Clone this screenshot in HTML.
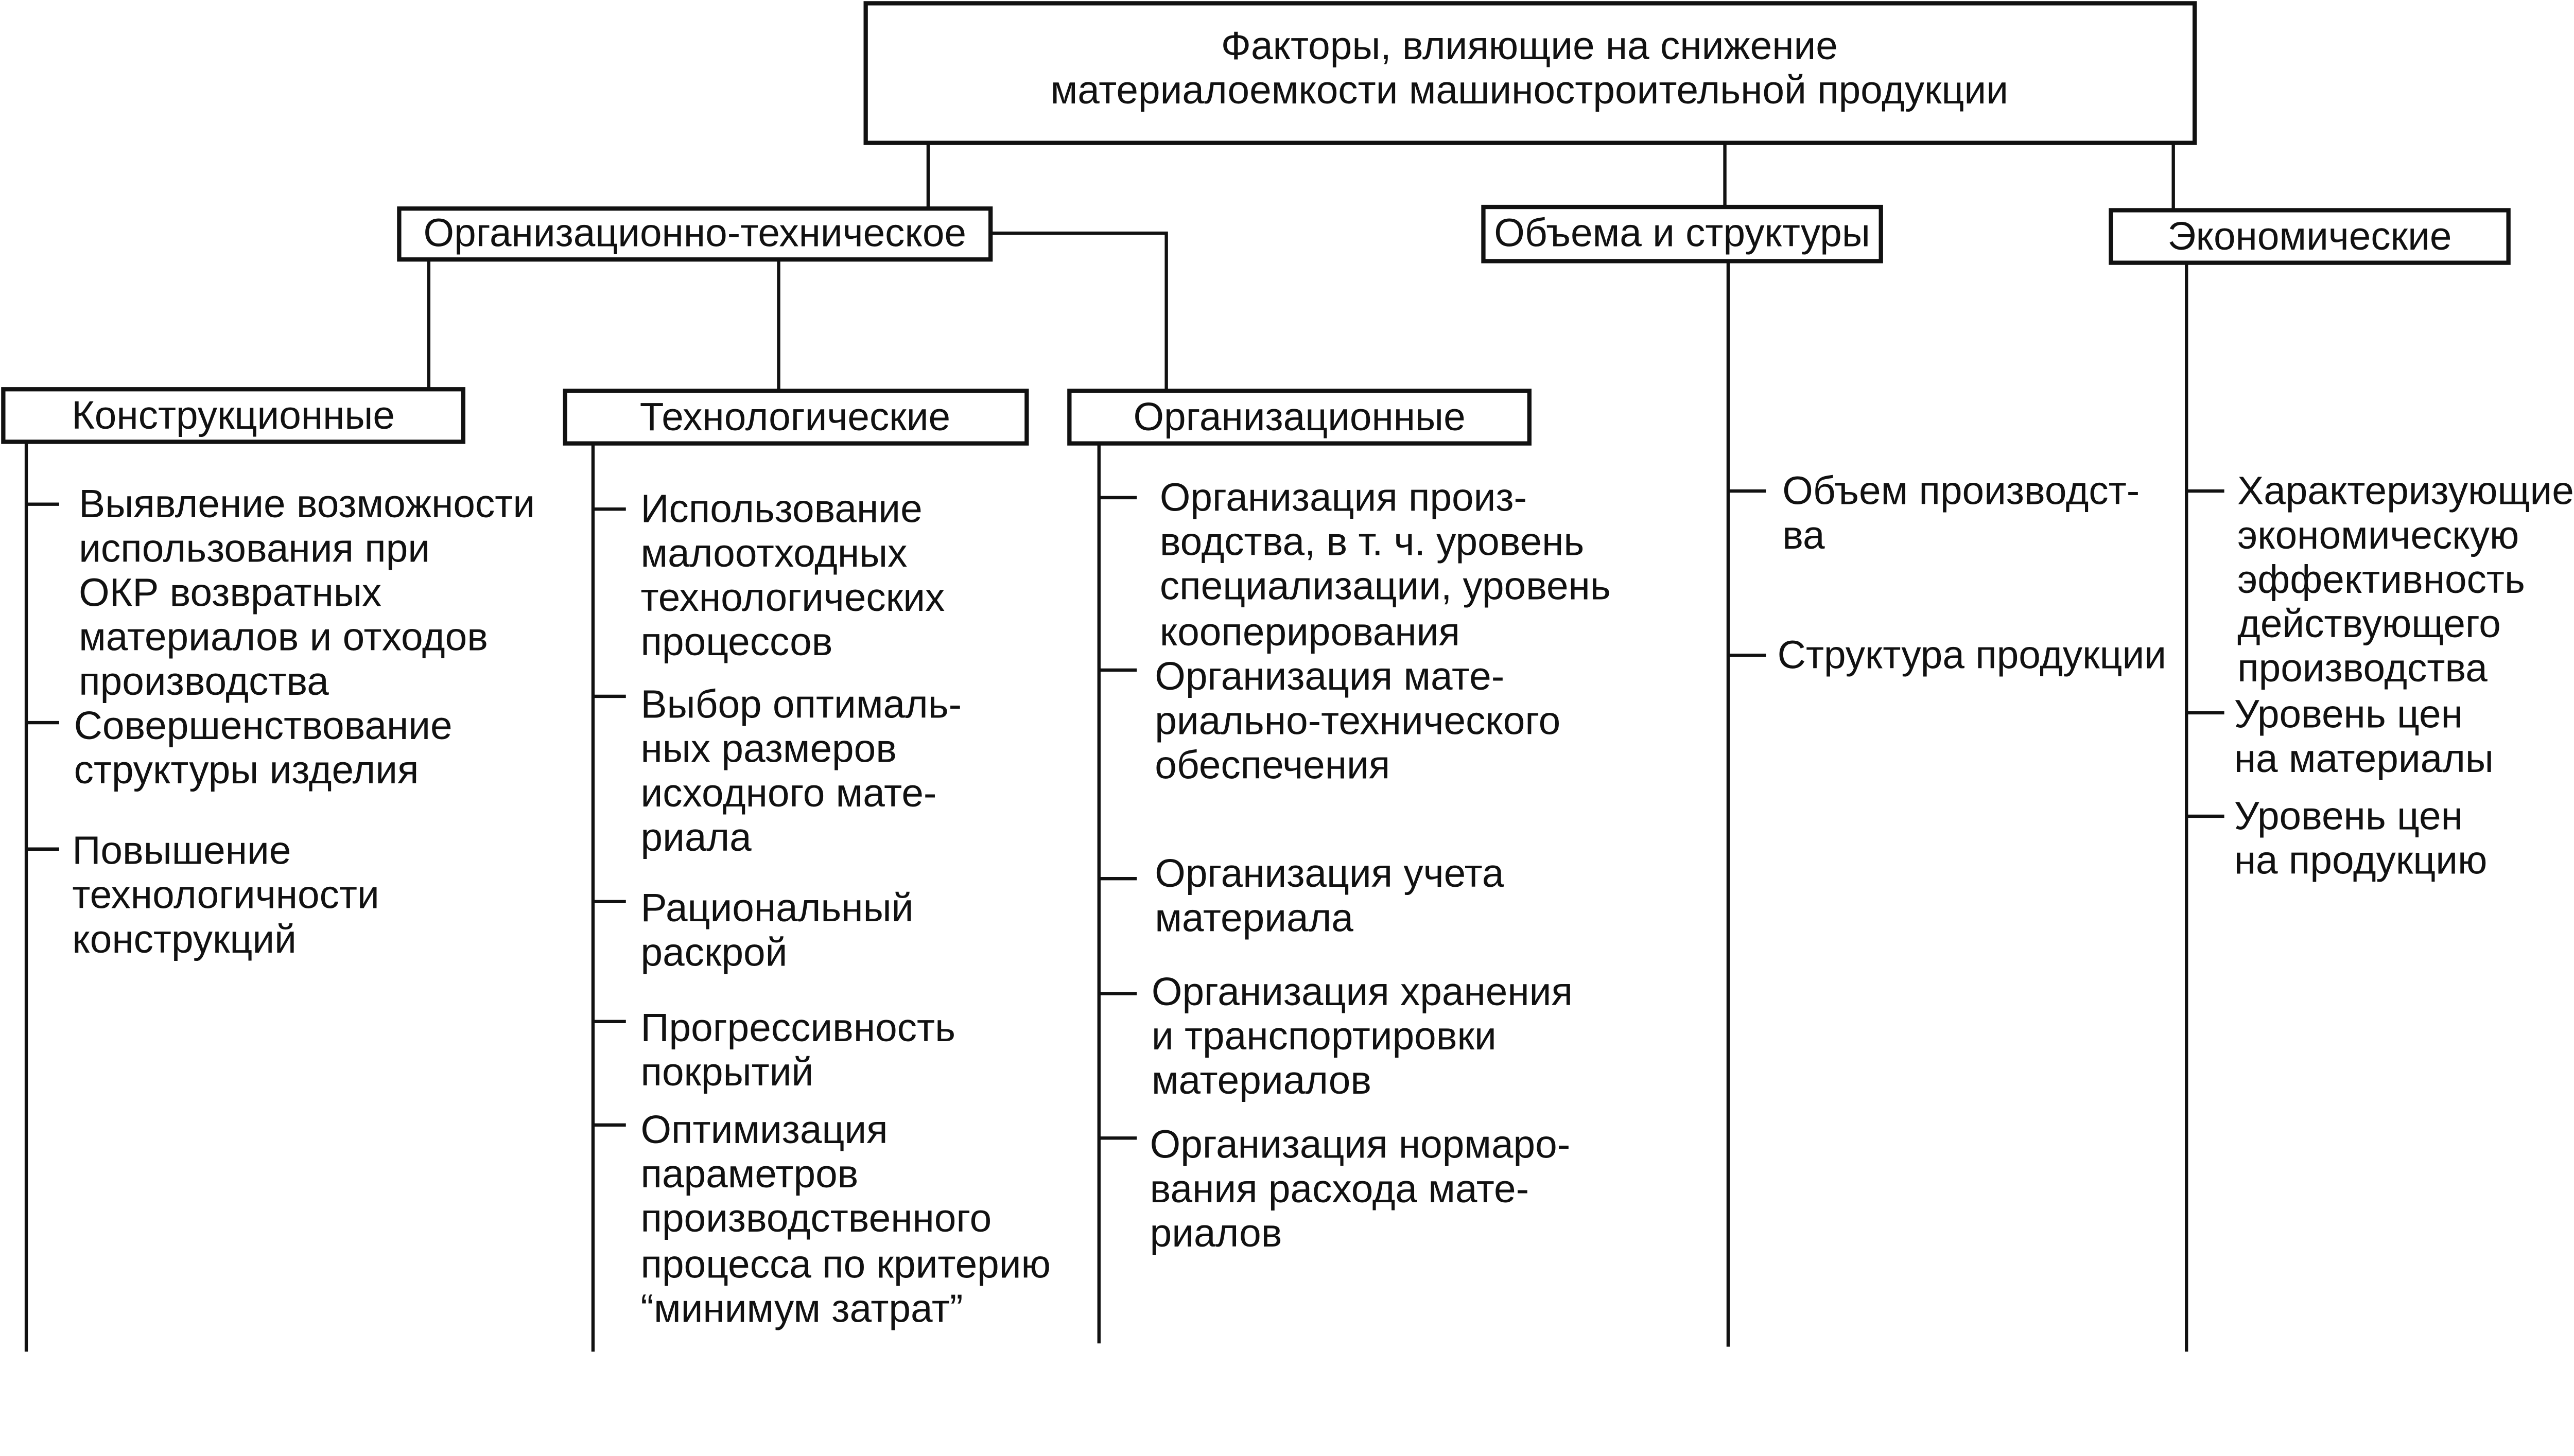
<!DOCTYPE html>
<html><head><meta charset="utf-8"><style>
html,body{margin:0;padding:0;background:#fff;width:5391px;height:2829px;overflow:hidden;}
svg{display:block;position:absolute;left:0;top:0;}
text{font-family:"Liberation Sans",Arial,sans-serif;font-size:24px;fill:#111;}
</style></head><body>
<svg width="5391" height="2829" xmlns="http://www.w3.org/2000/svg">
<g transform="scale(3.191,3.191)">
<g fill="#fff" stroke="#111" stroke-width="2.6">
<rect x="527" y="2" width="809" height="85"/>
<rect x="243" y="127" width="360" height="31"/>
<rect x="903" y="126" width="242" height="33"/>
<rect x="1285" y="128" width="242" height="32"/>
<rect x="2" y="237" width="280" height="32"/>
<rect x="344" y="238" width="281" height="32"/>
<rect x="651" y="238" width="280" height="32"/>
</g>
<g stroke="#111" stroke-width="2" fill="none">
<line x1="565" y1="87" x2="565" y2="127"/>
<line x1="1050" y1="87" x2="1050" y2="126"/>
<line x1="1323" y1="87" x2="1323" y2="128"/>
<line x1="261" y1="158" x2="261" y2="237"/>
<line x1="474" y1="158" x2="474" y2="238"/>
<polyline points="603,142 710,142 710,238"/>
<line x1="16" y1="269" x2="16" y2="823"/>
<line x1="361" y1="270" x2="361" y2="823"/>
<line x1="669" y1="270" x2="669" y2="818"/>
<line x1="1052" y1="159" x2="1052" y2="820"/>
<line x1="1331" y1="160" x2="1331" y2="823"/>
<line x1="16" y1="307" x2="36" y2="307"/>
<line x1="16" y1="440" x2="36" y2="440"/>
<line x1="16" y1="517" x2="36" y2="517"/>
<line x1="361" y1="310" x2="381" y2="310"/>
<line x1="361" y1="424" x2="381" y2="424"/>
<line x1="361" y1="549" x2="381" y2="549"/>
<line x1="361" y1="622" x2="381" y2="622"/>
<line x1="361" y1="685" x2="381" y2="685"/>
<line x1="669" y1="303" x2="692" y2="303"/>
<line x1="669" y1="408" x2="692" y2="408"/>
<line x1="669" y1="535" x2="692" y2="535"/>
<line x1="669" y1="605" x2="692" y2="605"/>
<line x1="669" y1="693" x2="692" y2="693"/>
<line x1="1052" y1="299" x2="1075" y2="299"/>
<line x1="1052" y1="399" x2="1075" y2="399"/>
<line x1="1331" y1="299" x2="1354" y2="299"/>
<line x1="1331" y1="434" x2="1354" y2="434"/>
<line x1="1331" y1="497" x2="1354" y2="497"/>
</g>
<g text-anchor="middle">
<text x="931" y="36">Факторы, влияющие на снижение</text>
<text x="931" y="63">материалоемкости машиностроительной продукции</text>
<text x="423" y="150">Организационно-техническое</text>
<text x="1024" y="150">Объема и структуры</text>
<text x="1406" y="152">Экономические</text>
<text x="142" y="261">Конструкционные</text>
<text x="484" y="262">Технологические</text>
<text x="791" y="262">Организационные</text>
</g>
<g>
<text x="48" y="315">Выявление возможности</text>
<text x="48" y="342">использования при</text>
<text x="48" y="369">ОКР возвратных</text>
<text x="48" y="396">материалов и отходов</text>
<text x="48" y="423">производства</text>
<text x="45" y="450">Совершенствование</text>
<text x="45" y="477">структуры изделия</text>
<text x="44" y="526">Повышение</text>
<text x="44" y="553">технологичности</text>
<text x="44" y="580">конструкций</text>

<text x="390" y="318">Использование</text>
<text x="390" y="345">малоотходных</text>
<text x="390" y="372">технологических</text>
<text x="390" y="399">процессов</text>
<text x="390" y="437">Выбор оптималь-</text>
<text x="390" y="464">ных размеров</text>
<text x="390" y="491">исходного мате-</text>
<text x="390" y="518">риала</text>
<text x="390" y="561">Рациональный</text>
<text x="390" y="588">раскрой</text>
<text x="390" y="634">Прогрессивность</text>
<text x="390" y="661">покрытий</text>
<text x="390" y="696">Оптимизация</text>
<text x="390" y="723">параметров</text>
<text x="390" y="750">производственного</text>
<text x="390" y="778">процесса по критерию</text>
<text x="390" y="805">“минимум затрат”</text>

<text x="706" y="311">Организация произ-</text>
<text x="706" y="338">водства, в т. ч. уровень</text>
<text x="706" y="365">специализации, уровень</text>
<text x="706" y="393">кооперирования</text>
<text x="703" y="420">Организация мате-</text>
<text x="703" y="447">риально-технического</text>
<text x="703" y="474">обеспечения</text>
<text x="703" y="540">Организация учета</text>
<text x="703" y="567">материала</text>
<text x="701" y="612">Организация хранения</text>
<text x="701" y="639">и транспортировки</text>
<text x="701" y="666">материалов</text>
<text x="700" y="705">Организация нормаро-</text>
<text x="700" y="732">вания расхода мате-</text>
<text x="700" y="759">риалов</text>

<text x="1085" y="307">Объем производст-</text>
<text x="1085" y="334">ва</text>
<text x="1082" y="407">Структура продукции</text>

<text x="1362" y="307">Характеризующие</text>
<text x="1362" y="334">экономическую</text>
<text x="1362" y="361">эффективность</text>
<text x="1362" y="388">действующего</text>
<text x="1362" y="415">производства</text>
<text x="1360" y="443">Уровень цен</text>
<text x="1360" y="470">на материалы</text>
<text x="1360" y="505">Уровень цен</text>
<text x="1360" y="532">на продукцию</text>
</g>
</g>
</svg>
</body></html>
